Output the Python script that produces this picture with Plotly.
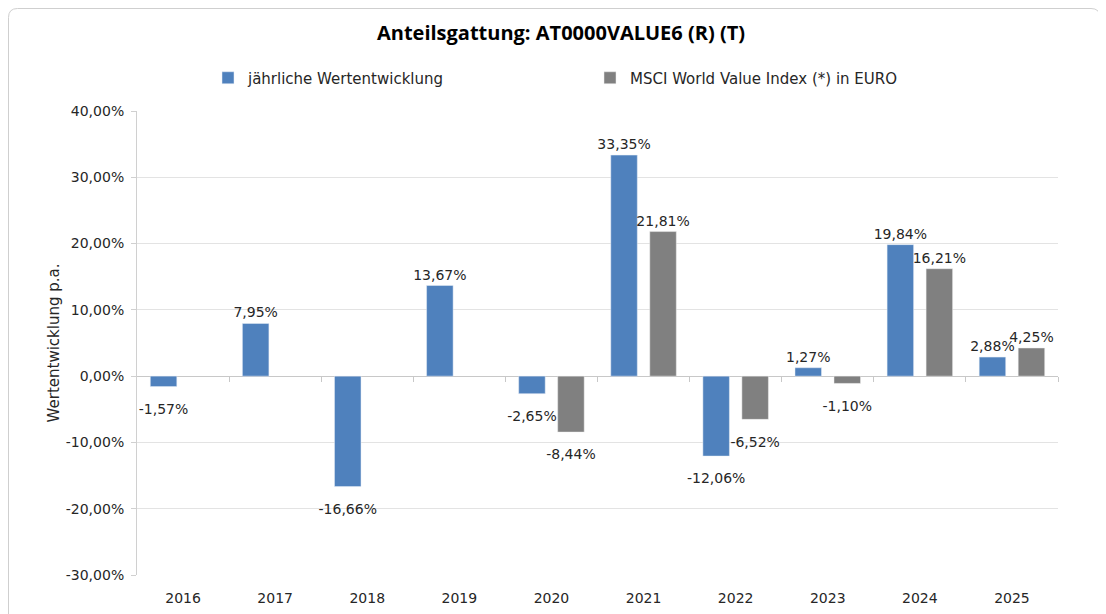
import plotly.graph_objects as go

years = ["2016", "2017", "2018", "2019", "2020", "2021", "2022", "2023", "2024", "2025"]
fund = [-1.57, 7.95, -16.66, 13.67, -2.65, 33.35, -12.06, 1.27, 19.84, 2.88]
index = [None, None, None, None, -8.44, 21.81, -6.52, -1.10, 16.21, 4.25]
fund_name = "jährliche Wertentwicklung"
index_name = "MSCI World Value Index (*) in EURO"
title = "Anteilsgattung: AT0000VALUE6 (R) (T)"
y_title = "Wertentwicklung p.a."
y_ticks = [-30, -20, -10, 0, 10, 20, 30, 40]
y_tick_labels = ["-30,00%", "-20,00%", "-10,00%", "0,00%", "10,00%", "20,00%", "30,00%", "40,00%"]

# page has an 8px body margin: work in figure pixels = page pixels - 8
OFF = 8
W, H = 1106 - OFF, 614 - OFF
L, R, T, B = 137 - OFF, 1106 - 1058, 111 - OFF, 614 - 575
pw, ph = W - L - R, H - T - B

FONT = "DejaVu Sans"
TITLE_FONT = "Open Sans"
TXT = "#262626"
label_font = dict(family=FONT, size=14, color=TXT)


def templates(vals):
    # negative labels sit a little further below the bar end, as in Excel
    return ["<span style='font-size:6px'>\u00a0</span><br>%{y:.2f}%" if (v is not None and v < 0)
            else "%{y:.2f}%" for v in vals]


fig = go.Figure()
fig.add_trace(go.Bar(
    x=years, y=fund, name=fund_name,
    marker=dict(color="#4F81BD", line=dict(color="#e8eef6", width=0.5)),
    texttemplate=templates(fund), textposition="outside", textfont=label_font,
    constraintext="none", cliponaxis=False,
))
fig.add_trace(go.Bar(
    x=years, y=index, name=index_name,
    marker=dict(color="#808080", line=dict(color="#eeeeee", width=0.5)),
    texttemplate=templates(index), textposition="outside", textfont=label_font,
    constraintext="none", cliponaxis=False,
))


def px_x(x):
    """page x pixel -> paper x"""
    return (x - OFF - L) / pw


def px_y(y):
    """page y pixel -> paper y"""
    return (H - B - (y - OFF)) / ph


x0, x1, y0, y1, r = 8.5, 1100, 8.5, 640, 9
path = (
    f"M {px_x(x0 + r)},{px_y(y0)} L {px_x(x1 - r)},{px_y(y0)} "
    f"Q {px_x(x1)},{px_y(y0)} {px_x(x1)},{px_y(y0 + r)} "
    f"L {px_x(x1)},{px_y(y1)} L {px_x(x0)},{px_y(y1)} "
    f"L {px_x(x0)},{px_y(y0 + r)} Q {px_x(x0)},{px_y(y0)} {px_x(x0 + r)},{px_y(y0)} Z"
)

fig.update_layout(
    width=W, height=H,
    margin=dict(l=L, r=R, t=T, b=B, autoexpand=False),
    paper_bgcolor="white", plot_bgcolor="white",
    separators=",.",
    barmode="group", bargap=0.153, bargroupgap=0.32,
    font=dict(family=FONT, size=14, color=TXT),
    title=dict(text=f"<b>{title}</b>", x=(561 - OFF) / W, xref="container", xanchor="center",
               y=1 - (33 - OFF) / H, yref="container", yanchor="middle",
               font=dict(family=TITLE_FONT, size=20, color="black")),
    legend=dict(orientation="h", x=px_x(208), xanchor="left", y=px_y(78), yanchor="middle",
                entrywidth=337, entrywidthmode="pixels", itemwidth=30,
                font=dict(family=FONT, size=15, color=TXT), bgcolor="rgba(0,0,0,0)"),
    shapes=[dict(type="path", path=path, xref="paper", yref="paper",
                 line=dict(color="#cfcfcf", width=1), fillcolor="rgba(0,0,0,0)", layer="below")],
    xaxis=dict(type="category", categoryorder="array", categoryarray=years,
               range=[-0.5, 9.5], showline=False, showgrid=False,
               ticks="outside", ticklen=10, tickcolor="rgba(0,0,0,0)",
               tickfont=dict(family=FONT, size=14, color=TXT)),
    yaxis=dict(range=[-30, 40], tickmode="array", tickvals=y_ticks, ticktext=y_tick_labels,
               showgrid=True, gridcolor="#e3e3e3", gridwidth=1,
               zeroline=True, zerolinecolor="#c8c8c8", zerolinewidth=1,
               showline=True, linecolor="#d0d0d0", linewidth=1,
               ticks="outside", ticklen=5, tickcolor="#d0d0d0", ticklabelstandoff=4,
               tickfont=dict(family=FONT, size=14, color=TXT),
               title=dict(text=y_title, font=dict(family=FONT, size=15, color=TXT), standoff=2)),
    xaxis2=dict(overlaying="x", anchor="free", position=30 / 70, side="bottom",
                range=[-0.5, 9.5], tickvals=[i + 0.5 for i in range(len(years))],
                showticklabels=False, ticks="outside", ticklen=5, tickcolor="#c8c8c8",
                showgrid=False, zeroline=False, showline=False),
)
fig.add_trace(go.Scatter(x=[None], y=[None], xaxis="x2", showlegend=False, hoverinfo="skip"))

fig.write_html("out.html")
